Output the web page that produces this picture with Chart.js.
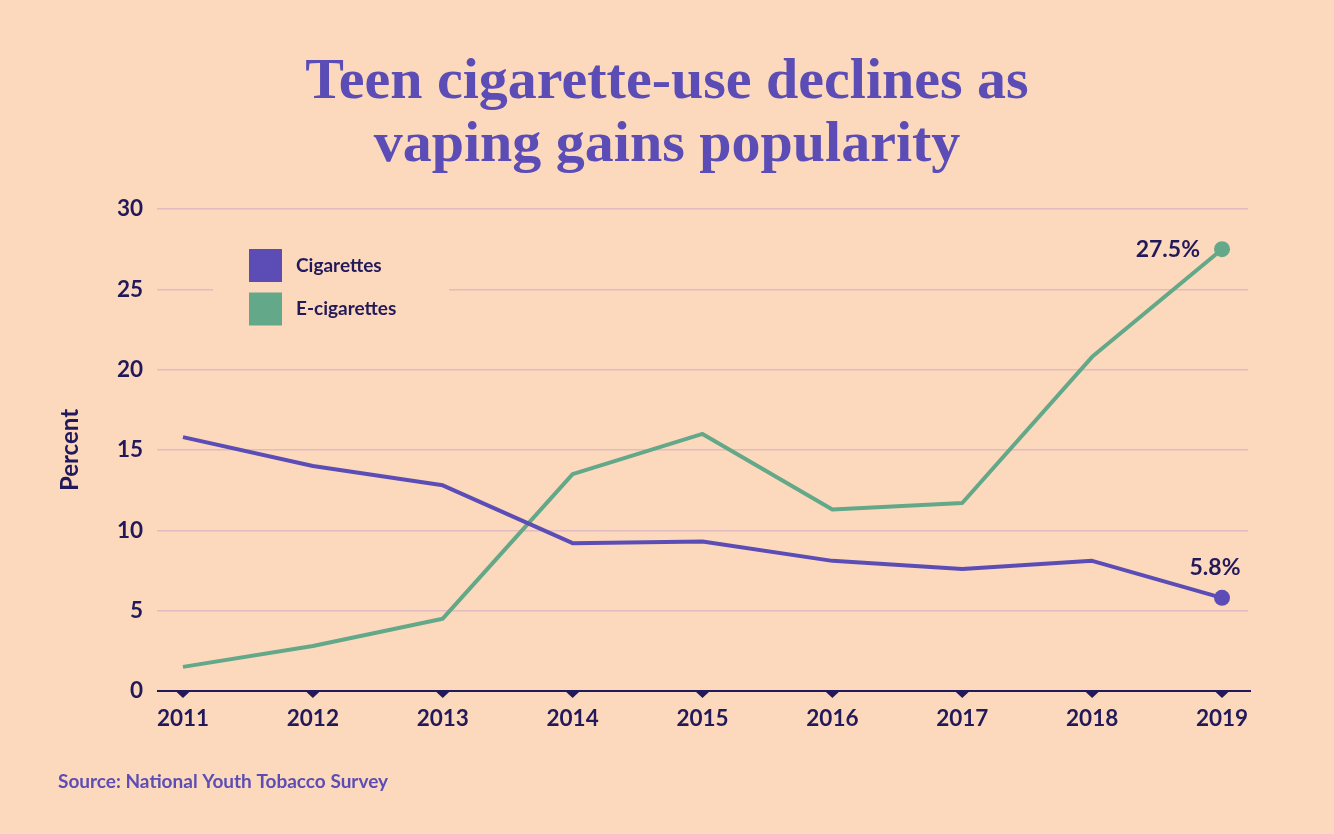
<!DOCTYPE html>
<html>
<head>
<meta charset="utf-8">
<script src="https://cdn.jsdelivr.net/npm/chart.js@4"></script>
<style>
html,body{margin:0;padding:0;background:#fcd9bc;}
#wrap{width:1334px;height:834px;position:relative;}
</style>
</head>
<body>
<div id="wrap"><canvas id="c" width="1334" height="834"></canvas></div>
<script>
const years = [2011, 2012, 2013, 2014, 2015, 2016, 2017, 2018, 2019];
const cigarettes = [15.8, 14.0, 12.8, 9.2, 9.3, 8.1, 7.6, 8.1, 5.8];
const eCigarettes = [1.5, 2.8, 4.5, 13.5, 16.0, 11.3, 11.7, 20.8, 27.5];
const yTicks = [0, 5, 10, 15, 20, 25, 30];
const seriesNames = ['Cigarettes', 'E-cigarettes'];
const titleLines = ['Teen cigarette-use declines as', 'vaping gains popularity'];
const sourceText = 'Source: National Youth Tobacco Survey';

const BG = '#fcd9bc', PURPLE = '#5b4db5', GREEN = '#63a889', NAVY = '#22195a', GRID = '#e0bcc0';
const SANS = 'Lato, "Open Sans", sans-serif';
const SERIF = '"Liberation Serif", "DejaVu Serif", serif';

const lastIdx = years.length - 1;
const pts = arr => years.map((y, i) => ({x: y, y: arr[i]}));

const decor = {
  id: 'decor',
  beforeDraw(chart) {
    const ctx = chart.ctx;
    ctx.save();
    ctx.fillStyle = BG;
    ctx.fillRect(0, 0, chart.width, chart.height);
    // title
    ctx.fillStyle = PURPLE;
    ctx.font = 'bold 58px ' + SERIF;
    ctx.textAlign = 'center';
    ctx.textBaseline = 'middle';
    titleLines.forEach((t, i) => ctx.fillText(t, 667, 83 + i * 63));
    ctx.restore();
  },
  beforeDatasetsDraw(chart) {
    const ctx = chart.ctx, ca = chart.chartArea;
    const xs = chart.scales.x, ys = chart.scales.y;
    ctx.save();
    // legend box
    ctx.fillStyle = BG;
    ctx.fillRect(213, 236, 236, 100);
    ctx.font = 'bold 19px ' + SANS;
    ctx.textBaseline = 'middle';
    chart.data.datasets.forEach((ds, i) => {
      const top = 249 + i * 43.5;
      ctx.fillStyle = ds.borderColor;
      ctx.fillRect(249, top, 33, 33);
      ctx.fillStyle = NAVY;
      ctx.fillText(ds.label, 296, top + 16.5);
    });
    // axis line
    const y0 = ys.getPixelForValue(0);
    ctx.strokeStyle = NAVY;
    ctx.lineWidth = 2;
    ctx.beginPath();
    ctx.moveTo(ca.left, y0);
    ctx.lineTo(ca.right + 3, y0);
    ctx.stroke();
    ctx.fillStyle = NAVY;
    years.forEach(v => {
      const px = xs.getPixelForValue(v);
      ctx.beginPath();
      ctx.moveTo(px - 7.5, y0);
      ctx.lineTo(px + 7.5, y0);
      ctx.lineTo(px, y0 + 7);
      ctx.closePath();
      ctx.fill();
    });
    ctx.restore();
  },
  afterDatasetsDraw(chart) {
    const ctx = chart.ctx;
    const xs = chart.scales.x, ys = chart.scales.y;
    ctx.save();
    ctx.fillStyle = NAVY;
    ctx.font = 'bold 23px ' + SANS;
    ctx.textBaseline = 'middle';
    const ex = xs.getPixelForValue(years[lastIdx]), ey = ys.getPixelForValue(eCigarettes[lastIdx]);
    ctx.textAlign = 'right';
    ctx.fillText(eCigarettes[lastIdx].toFixed(1) + '%', ex - 22, ey);
    const cx = xs.getPixelForValue(years[lastIdx]), cy = ys.getPixelForValue(cigarettes[lastIdx]);
    ctx.textAlign = 'center';
    ctx.fillText(cigarettes[lastIdx].toFixed(1) + '%', cx - 7, cy - 30);
    ctx.fillStyle = PURPLE;
    ctx.font = 'bold 19px ' + SANS;
    ctx.textAlign = 'left';
    ctx.fillText(sourceText, 58, 782);
    ctx.restore();
  }
};

new Chart(document.getElementById('c'), {
  type: 'line',
  data: {
    datasets: [
      {label: seriesNames[0], data: pts(cigarettes), borderColor: PURPLE, backgroundColor: PURPLE},
      {label: seriesNames[1], data: pts(eCigarettes), borderColor: GREEN, backgroundColor: GREEN}
    ]
  },
  options: {
    responsive: false,
    animation: false,
    layout: {padding: {left: 48, right: 86, top: 209, bottom: 88}},
    elements: {
      line: {borderWidth: 4, tension: 0, borderJoinStyle: 'round'},
      point: {
        radius: c => c.dataIndex === lastIdx ? 8 : 0,
        hoverRadius: c => c.dataIndex === lastIdx ? 8 : 0,
        borderWidth: 0
      }
    },
    plugins: {
      legend: {display: false},
      tooltip: {enabled: false},
      title: {display: false}
    },
    scales: {
      x: {
        type: 'linear',
        min: 2010.8,
        max: 2019.2,
        afterBuildTicks: s => { s.ticks = years.map(v => ({value: v})); },
        grid: {display: false, drawTicks: false},
        border: {display: false},
        ticks: {
          callback: v => String(v),
          color: NAVY,
          font: {family: SANS, size: 22.5, weight: 'bold'},
          padding: 14,
          maxRotation: 0,
          autoSkip: false
        }
      },
      y: {
        min: 0,
        max: 30,
        afterBuildTicks: s => { s.ticks = yTicks.map(v => ({value: v})); },
        afterFit: s => { s.width = 109; },
        grid: {
          color: c => c.tick && c.tick.value === 0 ? 'rgba(0,0,0,0)' : GRID,
          lineWidth: 1.5,
          drawTicks: false
        },
        border: {display: false},
        title: {
          display: true,
          text: 'Percent',
          color: NAVY,
          font: {family: SANS, size: 24, weight: 'bold'},
          padding: {top: 8, bottom: 0}
        },
        ticks: {
          color: NAVY,
          font: {family: SANS, size: 22.5, weight: 'bold'},
          padding: 14
        }
      }
    }
  },
  plugins: [decor]
});
</script>
</body>
</html>
